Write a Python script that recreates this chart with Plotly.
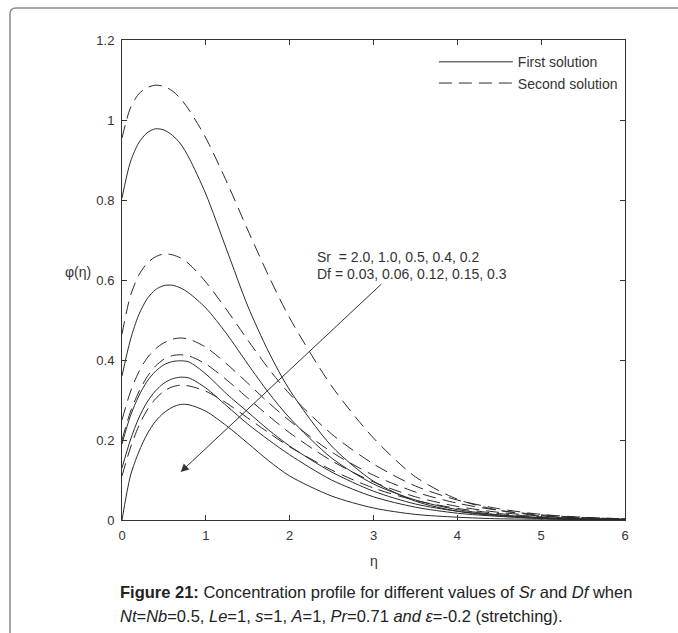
import plotly.graph_objects as go

eta = [0, 0.1, 0.2, 0.3, 0.4, 0.5, 0.6, 0.7, 0.8, 1.0, 1.25, 1.5, 1.75, 2.0, 2.5, 3.0, 3.5, 4.0, 4.5, 5.0, 5.5, 6.0]

# First solution (solid) for Sr = 2.0, 1.0, 0.5, 0.4, 0.2
first_sr20 = [0.805, 0.895, 0.943, 0.968, 0.978, 0.975, 0.962, 0.940, 0.905, 0.815, 0.675, 0.535, 0.420, 0.325, 0.185, 0.097, 0.047, 0.022, 0.010, 0.004, 0.002, 0.001]
first_sr10 = [0.360, 0.450, 0.513, 0.553, 0.576, 0.586, 0.587, 0.580, 0.567, 0.530, 0.465, 0.390, 0.318, 0.255, 0.155, 0.090, 0.050, 0.026, 0.013, 0.006, 0.003, 0.001]
first_sr05 = [0.190, 0.260, 0.310, 0.347, 0.372, 0.388, 0.396, 0.398, 0.395, 0.365, 0.315, 0.270, 0.225, 0.185, 0.120, 0.072, 0.040, 0.022, 0.012, 0.006, 0.003, 0.001]
first_sr04 = [0.130, 0.200, 0.255, 0.295, 0.323, 0.342, 0.353, 0.357, 0.355, 0.330, 0.285, 0.240, 0.200, 0.163, 0.100, 0.058, 0.032, 0.017, 0.009, 0.004, 0.002, 0.001]
first_sr02 = [0.000, 0.110, 0.170, 0.215, 0.247, 0.268, 0.282, 0.289, 0.288, 0.272, 0.235, 0.192, 0.148, 0.110, 0.060, 0.030, 0.014, 0.007, 0.003, 0.002, 0.001, 0.000]

# Second solution (dashed)
second_sr20 = [0.955, 1.030, 1.065, 1.081, 1.087, 1.084, 1.073, 1.053, 1.025, 0.955, 0.845, 0.725, 0.610, 0.505, 0.335, 0.205, 0.108, 0.052, 0.024, 0.011, 0.005, 0.002]
second_sr10 = [0.465, 0.560, 0.612, 0.642, 0.658, 0.665, 0.663, 0.655, 0.640, 0.595, 0.525, 0.450, 0.378, 0.315, 0.215, 0.140, 0.085, 0.050, 0.028, 0.014, 0.007, 0.003]
second_sr05 = [0.250, 0.320, 0.370, 0.405, 0.428, 0.443, 0.452, 0.455, 0.452, 0.432, 0.390, 0.342, 0.293, 0.248, 0.170, 0.112, 0.070, 0.042, 0.024, 0.013, 0.006, 0.003]
second_sr04 = [0.200, 0.270, 0.320, 0.358, 0.385, 0.402, 0.411, 0.413, 0.410, 0.390, 0.350, 0.305, 0.260, 0.218, 0.148, 0.095, 0.058, 0.034, 0.019, 0.010, 0.005, 0.002]
second_sr02 = [0.110, 0.180, 0.235, 0.275, 0.303, 0.322, 0.333, 0.337, 0.335, 0.322, 0.292, 0.255, 0.218, 0.183, 0.125, 0.080, 0.049, 0.029, 0.016, 0.008, 0.004, 0.002]

first = [first_sr20, first_sr10, first_sr05, first_sr04, first_sr02]
second = [second_sr20, second_sr10, second_sr05, second_sr04, second_sr02]

x_ticks = [0, 1, 2, 3, 4, 5, 6]
y_ticks = [0, 0.2, 0.4, 0.6, 0.8, 1.0, 1.2]
y_ticklabels = ["0", "0.2", "0.4", "0.6", "0.8", "1", "1.2"]

FONT = "Liberation Sans, Arial, sans-serif"
LINE = "#2a2a2a"

fig = go.Figure()
for i, ys in enumerate(first):
    fig.add_trace(go.Scatter(x=eta, y=ys, mode="lines", line=dict(color=LINE, width=1, shape="spline", smoothing=0.8),
                             name="First solution", showlegend=(i == 0), legendrank=1))
for i, ys in enumerate(second):
    fig.add_trace(go.Scatter(x=eta, y=ys, mode="lines", line=dict(color=LINE, width=1, dash="13px,7px", shape="spline", smoothing=0.8),
                             name="Second solution", showlegend=(i == 0), legendrank=2))

axis_common = dict(showline=True, linecolor="#333", linewidth=1, mirror="ticks", ticks="inside", ticklen=5,
                   tickcolor="#333", showgrid=False, zeroline=False,
                   tickfont=dict(family=FONT, size=13, color="#333"))

fig.update_layout(
    width=678, height=633,
    margin=dict(l=122, r=53, t=40, b=113),
    paper_bgcolor="white", plot_bgcolor="white",
    font=dict(family=FONT, color="#333"),
    xaxis=dict(range=[0, 6], tickvals=x_ticks, ticklabelstandoff=3, **axis_common),
    yaxis=dict(range=[0, 1.2], tickvals=y_ticks, ticktext=y_ticklabels, ticklabelstandoff=4, **axis_common),
    legend=dict(x=0.62, y=0.987, xanchor="left", yanchor="top", bgcolor="rgba(0,0,0,0)",
                borderwidth=0, itemwidth=74, tracegroupgap=0,
                font=dict(family=FONT, size=14, color="#333")),
)

ann = []
ann.append(dict(x=0.70, y=0.12, ax=3.11, ay=0.593, xref="x", yref="y", axref="x", ayref="y",
                showarrow=True, arrowhead=2, arrowsize=1.6, arrowwidth=1, arrowcolor="#333", text=""))
ann.append(dict(x=2.30, y=0.657, xref="x", yref="y", xanchor="left", yanchor="middle", showarrow=False,
                text="Sr  = 2.0, 1.0, 0.5, 0.4, 0.2", font=dict(family=FONT, size=14, color="#333")))
ann.append(dict(x=2.30, y=0.615, xref="x", yref="y", xanchor="left", yanchor="middle", showarrow=False,
                text="Df = 0.03, 0.06, 0.12, 0.15, 0.3", font=dict(family=FONT, size=14, color="#333")))
ann.append(dict(x=-0.088, y=0.517, xref="paper", yref="paper", xanchor="center", yanchor="middle", showarrow=False,
                text="φ(η)", font=dict(family=FONT, size=14, color="#333")))
ann.append(dict(x=0.5, y=-0.085, xref="paper", yref="paper", xanchor="center", yanchor="middle", showarrow=False,
                text="η", font=dict(family=FONT, size=14, color="#333")))
ann.append(dict(x=-0.007, y=-0.15, xref="paper", yref="paper", xanchor="left", yanchor="middle", showarrow=False,
                text="<b>Figure 21:</b> Concentration profile for different values of <i>Sr</i> and <i>Df</i> when",
                font=dict(family=FONT, size=16.5, color="#222")))
ann.append(dict(x=-0.007, y=-0.2, xref="paper", yref="paper", xanchor="left", yanchor="middle", showarrow=False,
                text="<i>Nt</i>=<i>Nb</i>=0.5, <i>Le</i>=1, <i>s</i>=1, <i>A</i>=1, <i>Pr</i>=0.71 <i>and</i> <i>ε</i>=-0.2 (stretching).",
                font=dict(family=FONT, size=16.5, color="#222")))
fig.update_layout(annotations=ann)

# outer rounded frame (pixel -> paper conversion)
def px(xp):
    return (xp - 122) / 503.0
def py(yp):
    return (520 - yp) / 480.0

path = (f"M {px(680)},{py(8)} L {px(16)},{py(8)} Q {px(10)},{py(8)} {px(10)},{py(14)} L {px(10)},{py(640)}")
fig.add_shape(type="path", path=path, xref="paper", yref="paper", line=dict(color="#8a8a8a", width=1.5))

fig.write_html("out.html")
